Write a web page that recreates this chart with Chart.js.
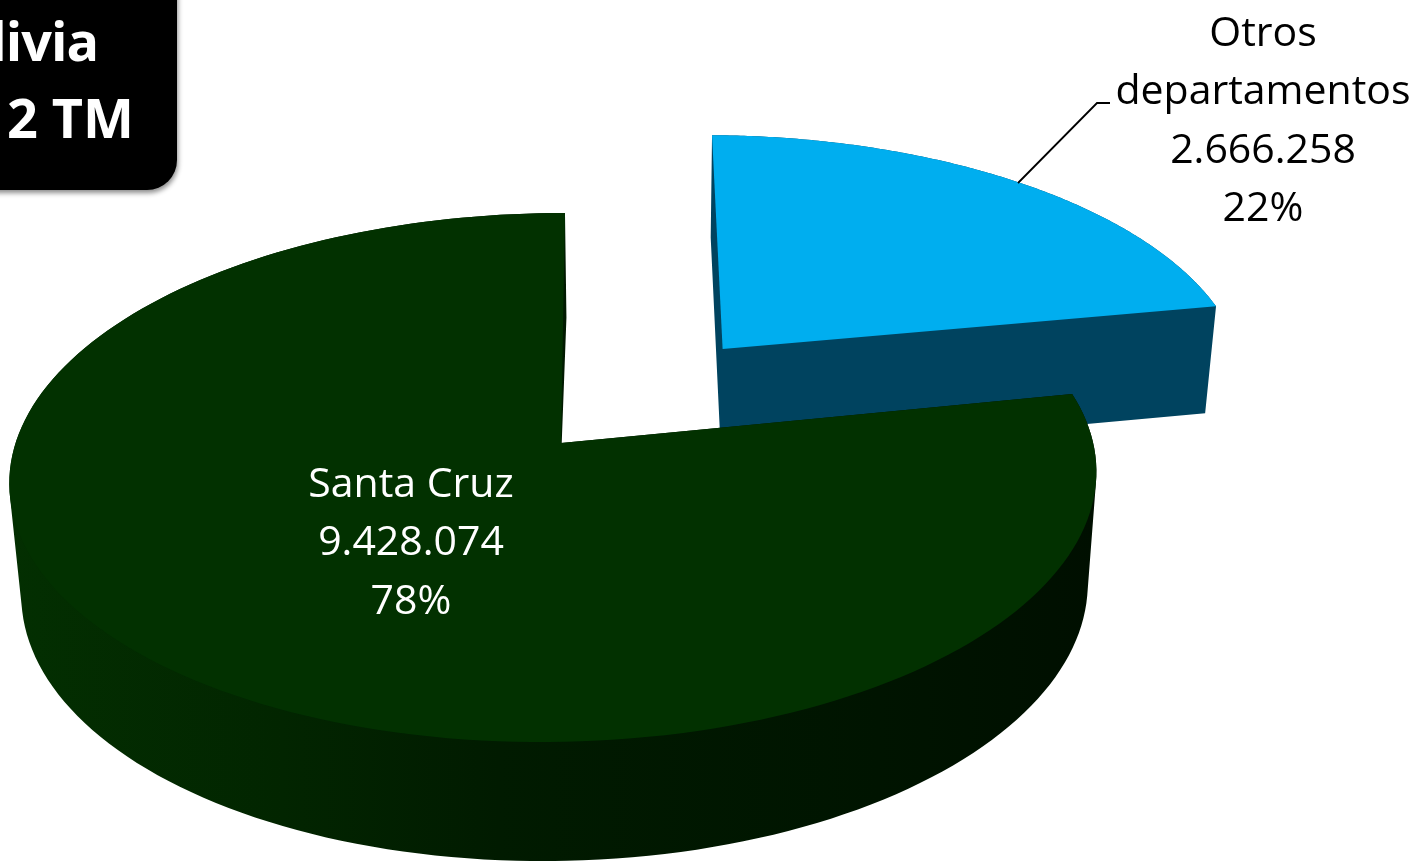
<!DOCTYPE html>
<html lang="es">
<head>
<meta charset="utf-8">
<title>Producción Bolivia</title>
<script src="https://cdn.jsdelivr.net/npm/chart.js@4"></script>
<style>
  html, body { margin: 0; padding: 0; background: #fff; overflow: hidden; }
  #wrap { position: relative; width: 1418px; height: 861px; overflow: hidden; }
  #titleBox {
    position: absolute; left: -40px; top: -40px; width: 217px; height: 230px;
    background: #000; border-radius: 30px;
    box-shadow: 1px 3px 5px rgba(0,0,0,0.45);
    color: #fff; font: bold 54px "Open Sans", sans-serif; text-align: right;
  }
  #titleBox div { position: absolute; white-space: nowrap; line-height: 74px; }
</style>
</head>
<body>
<div id="wrap">
  <canvas id="pieChart" width="1418" height="861"></canvas>
  <div id="titleBox">
    <div style="right:79px; top:43px; letter-spacing:-1px">livia</div>
    <div style="right:43px; top:120px">2 TM</div>
  </div>
</div>
<script>
const categories = ['Otros departamentos', 'Santa Cruz'];
const values = [2666258, 9428074];
const topColors = ['#00AEEF', '#023100'];
const labelLines = [['Otros', 'departamentos'], ['Santa Cruz']];

// proyección del plano de la torta (perspectiva tipo PowerPoint 3D)
const cam = { x: 561, y: 443, A: 538.8, B: 260, C: 4.5, D: 3, k: 0.1304, m: 0.0138 };
const explode = [0.49, 0];
const radiusScale = [1.025, 1];
const giro = [0.008, 0];
const centroFondoDx = [0, -5];

function proyectar(u, v) {
    const w = 1 + cam.k * v + cam.m * u;
    return { x: cam.x + (cam.A * u + cam.C * v) / w, y: cam.y - (cam.B * v + cam.D * u) / w };
}

// cara inferior: el disco de abajo se ve desplazado y escalado
function bajar(p) {
    return { x: 0.981 * p.x + 12.2, y: 1.0275 * p.y + 98.6 };
}

function formatoMiles(n) {
    return String(n).replace(/\B(?=(\d{3})+$)/g, '.');
}

function trazar(ctx, pts) {
    pts.forEach((p, i) => i ? ctx.lineTo(p.x, p.y) : ctx.moveTo(p.x, p.y));
    ctx.closePath();
}

// agrega un cuadrilátero siempre con la misma orientación, así el relleno nonzero hace la unión
function trazarOrientado(ctx, pts) {
    let area = 0;
    pts.forEach((p, i) => {
        const q = pts[(i + 1) % pts.length];
        area += p.x * q.y - q.x * p.y;
    });
    trazar(ctx, area < 0 ? pts.slice().reverse() : pts);
}

// puntos del borde de una porción, a partir de los ángulos del arco de Chart.js
function bordeArco(arc, i) {
    const mid = (arc.startAngle + arc.endAngle) / 2 + Math.PI / 2;
    const ox = explode[i] * Math.sin(mid);
    const oy = explode[i] * Math.cos(mid);
    const pts = [];
    const pasos = 180;
    for (let s = 0; s <= pasos; s++) {
        const t = arc.startAngle + (arc.endAngle - arc.startAngle) * s / pasos + Math.PI / 2 + giro[i];
        pts.push(proyectar(ox + radiusScale[i] * Math.sin(t), oy + radiusScale[i] * Math.cos(t)));
    }
    return { pts, centro: proyectar(ox, oy) };
}

const torta3d = {
    id: 'torta3d',
    beforeDatasetsDraw(chart) {
        const ctx = chart.ctx;
        const arcs = chart.getDatasetMeta(0).data;

        const verdeLado = ctx.createLinearGradient(10, 0, 1097, 0);
        verdeLado.addColorStop(0, '#032f01');
        verdeLado.addColorStop(0.25, '#022500');
        verdeLado.addColorStop(0.45, '#011b00');
        verdeLado.addColorStop(0.8, '#001400');
        verdeLado.addColorStop(1, '#000f00');
        const ladoColors = ['#00435F', verdeLado];

        arcs.forEach((arc, i) => {
            const { pts, centro } = bordeArco(arc, i);
            const abajo = pts.map(bajar);
            const centroAbajo = bajar(centro);
            centroAbajo.x += centroFondoDx[i];
            const ultimo = pts.length - 1;

            ctx.save();
            ctx.fillStyle = ladoColors[i];
            ctx.beginPath();
            // disco inferior
            trazarOrientado(ctx, [centroAbajo, ...abajo]);
            // pared curva, tramo por tramo
            for (let s = 0; s < ultimo; s++) {
                trazarOrientado(ctx, [pts[s], pts[s + 1], abajo[s + 1], abajo[s]]);
            }
            // caras de los dos cortes
            trazarOrientado(ctx, [pts[0], abajo[0], centroAbajo, centro]);
            trazarOrientado(ctx, [pts[ultimo], abajo[ultimo], centroAbajo, centro]);
            ctx.fill();

            // cara superior
            ctx.fillStyle = topColors[i];
            ctx.beginPath();
            trazar(ctx, [centro, ...pts]);
            ctx.fill();
            ctx.restore();
        });
        return false;
    },
    afterDraw(chart) {
        const ctx = chart.ctx;
        const total = values.reduce((a, b) => a + b, 0);

        // línea guía de Otros
        ctx.save();
        ctx.strokeStyle = '#000';
        ctx.lineWidth = 1.8;
        ctx.beginPath();
        ctx.moveTo(1018, 183);
        ctx.lineTo(1097, 103);
        ctx.lineTo(1110, 103);
        ctx.stroke();

        ctx.font = '41px "Open Sans", sans-serif';
        ctx.textAlign = 'center';
        ctx.textBaseline = 'alphabetic';
        const pos = [{ x: 1263, y: 46, color: '#000' }, { x: 411, y: 497, color: '#fff' }];
        values.forEach((val, i) => {
            const lineas = [...labelLines[i], formatoMiles(val), Math.round(val / total * 100) + '%'];
            ctx.fillStyle = pos[i].color;
            lineas.forEach((t, n) => ctx.fillText(t, pos[i].x, pos[i].y + n * 58.4));
        });
        ctx.restore();
    }
};

new Chart(document.getElementById('pieChart').getContext('2d'), {
    type: 'pie',
    data: {
        labels: categories,
        datasets: [{ data: values, backgroundColor: topColors, borderWidth: 0 }]
    },
    options: {
        responsive: false,
        animation: false,
        plugins: { legend: { display: false }, tooltip: { enabled: false } }
    },
    plugins: [torta3d]
});
</script>
</body>
</html>
